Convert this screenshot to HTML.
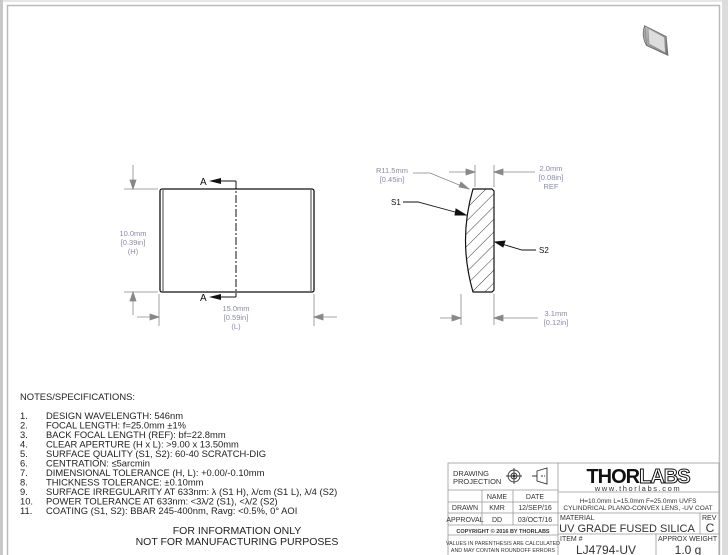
<!DOCTYPE html>
<html><head><meta charset="utf-8"><style>
body{margin:0;width:728px;height:555px;overflow:hidden;background:#fff}
svg{display:block}
text{font-family:"Liberation Sans",sans-serif}
</style></head><body>
<svg width="728" height="555" viewBox="0 0 728 555" xmlns="http://www.w3.org/2000/svg">
<defs>
<pattern id="h" width="9" height="9" patternUnits="userSpaceOnUse" patternTransform="rotate(45)"><line x1="0" y1="0" x2="0" y2="9" stroke="#222" stroke-width="0.9"/></pattern>
<linearGradient id="g" x1="0" y1="0" x2="1" y2="1"><stop offset="0" stop-color="#bbb"/><stop offset="1" stop-color="#777"/></linearGradient>
</defs>
<rect x="0" y="0" width="728" height="555" fill="#e6e6e6"/>
<rect x="3" y="2" width="719" height="553" fill="#fff"/>
<rect x="0" y="0" width="3" height="555" fill="#c8c8c8"/>
<rect x="722" y="0" width="6" height="555" fill="#dcdcdc"/>
<path d="M7.5 555 V5.5 H719.5 V555" fill="none" stroke="#bbb" stroke-width="1.5"/>
<!-- 3D icon -->
<g transform="translate(641,23) scale(0.9)">
<path d="M4 3 L28 15 L30 36 L6 25 Z" fill="url(#g)" stroke="#666" stroke-width="0.8"/>
<path d="M8 6 L26 16 L27 33 L9 23 Z" fill="#ddd" stroke="#999" stroke-width="0.6"/>
<path d="M4 3 Q0 14 6 25" fill="#aaa" stroke="#666" stroke-width="0.8"/>
</g>
<!-- front view -->
<g stroke="#111" fill="none" stroke-width="1.3">
<rect x="160" y="189" width="154" height="103" rx="2"/>
<line x1="163" y1="190" x2="163" y2="291" stroke-width="0.8"/>
<line x1="311" y1="190" x2="311" y2="291" stroke-width="0.8"/>
<line x1="236" y1="181" x2="236" y2="297" stroke-dasharray="8,2,2,2" stroke-width="1"/>
<path d="M221 181 H236 M221 297 H236" stroke-width="1"/>
</g>
<g fill="#111"><path d="M209 181 L221 178 L221 184Z M209 297 L221 294 L221 300Z"/></g>
<text x="200" y="185" font-size="10" fill="#111">A</text>
<text x="200" y="301" font-size="10" fill="#111">A</text>
<g stroke="#888" stroke-width="0.8" fill="#888">
<line x1="124" y1="189" x2="158" y2="189"/><line x1="124" y1="292" x2="158" y2="292"/>
<line x1="133" y1="165" x2="133" y2="189"/><path d="M130 180 L133 189 L136 180Z"/>
<line x1="133" y1="292" x2="133" y2="315"/><path d="M130 301 L133 292 L136 301Z"/>
<line x1="159" y1="294" x2="159" y2="326"/><line x1="314" y1="294" x2="314" y2="326"/>
<line x1="137" y1="317" x2="159" y2="317"/><path d="M150 314 L159 317 L150 320Z"/>
<line x1="314" y1="317" x2="337" y2="317"/><path d="M323 314 L314 317 L323 320Z"/>
</g>
<g font-size="7.5" fill="#8a8aa8" text-anchor="middle">
<text x="133" y="236">10.0mm</text><text x="133" y="245">[0.39in]</text><text x="133" y="254">(H)</text>
<text x="236" y="311">15.0mm</text><text x="236" y="320">[0.59in]</text><text x="236" y="329">(L)</text>
<text x="392" y="173">R11.5mm</text><text x="392" y="182">[0.45in]</text>
<text x="551" y="171">2.0mm</text><text x="551" y="180">[0.08in]</text><text x="551" y="189">REF</text>
<text x="556" y="316">3.1mm</text><text x="556" y="325">[0.12in]</text>
</g>
<!-- lens section -->
<path d="M473 189 L492 189 L494 191 L494 290 L492 292 L473 292 Q458 240 473 189Z" fill="url(#h)" stroke="#111" stroke-width="1.2"/>
<g stroke="#888" stroke-width="0.8" fill="#888">
<line x1="475" y1="165" x2="475" y2="187"/><line x1="494" y1="165" x2="494" y2="187"/>
<line x1="449" y1="172" x2="475" y2="172"/><path d="M466 169 L475 172 L466 175Z"/>
<line x1="494" y1="172" x2="535" y2="172"/><path d="M503 169 L494 172 L503 175Z"/>
<path d="M413 173 L430 173 L469 189" fill="none"/><path d="M469 189 L461 182 L459 187Z"/>
<line x1="461" y1="294" x2="461" y2="325"/><line x1="494" y1="294" x2="494" y2="325"/>
<line x1="440" y1="318" x2="461" y2="318"/><path d="M452 315 L461 318 L452 321Z"/>
<line x1="494" y1="318" x2="538" y2="318"/><path d="M503 315 L494 318 L503 321Z"/>
</g>
<g stroke="#111" stroke-width="0.9" fill="#111">
<path d="M403 202 L418 202 L466 215" fill="none"/><path d="M466 215 L456 209 L455 215Z"/>
<path d="M536 250 L522 250 L495 242" fill="none"/><path d="M495 242 L505 241 L503 247Z"/>
</g>
<text x="391" y="205" font-size="8" fill="#111">S1</text>
<text x="539" y="253" font-size="8" fill="#111">S2</text>
<!-- notes -->
<g font-size="9.4" fill="#222">
<text x="20" y="400">NOTES/SPECIFICATIONS:</text>
<g>
<text x="20" y="419">1.</text><text x="46" y="419">DESIGN WAVELENGTH: 546nm</text>
<text x="20" y="428.5">2.</text><text x="46" y="428.5">FOCAL LENGTH: f=25.0mm ±1%</text>
<text x="20" y="438">3.</text><text x="46" y="438">BACK FOCAL LENGTH (REF): bf=22.8mm</text>
<text x="20" y="447.5">4.</text><text x="46" y="447.5">CLEAR APERTURE (H x L): &gt;9.00 x 13.50mm</text>
<text x="20" y="457">5.</text><text x="46" y="457">SURFACE QUALITY (S1, S2): 60-40 SCRATCH-DIG</text>
<text x="20" y="466.5">6.</text><text x="46" y="466.5">CENTRATION: ≤5arcmin</text>
<text x="20" y="476">7.</text><text x="46" y="476">DIMENSIONAL TOLERANCE (H, L): +0.00/-0.10mm</text>
<text x="20" y="485.5">8.</text><text x="46" y="485.5">THICKNESS TOLERANCE: ±0.10mm</text>
<text x="20" y="495">9.</text><text x="46" y="495">SURFACE IRREGULARITY AT 633nm: λ (S1 H), λ/cm (S1 L), λ/4 (S2)</text>
<text x="20" y="504.5">10.</text><text x="46" y="504.5">POWER TOLERANCE AT 633nm: &lt;3λ/2 (S1), &lt;λ/2 (S2)</text>
<text x="20" y="514">11.</text><text x="46" y="514">COATING (S1, S2): BBAR 245-400nm, Ravg: &lt;0.5%, 0° AOI</text>
</g>
<g font-size="10.5" text-anchor="middle"><text x="237" y="534">FOR INFORMATION ONLY</text><text x="237" y="545">NOT FOR MANUFACTURING PURPOSES</text></g>
</g>
<!-- title block -->
<g stroke="#999" stroke-width="0.8" fill="none">
<rect x="448" y="463" width="271" height="95"/>
<line x1="558" y1="463" x2="558" y2="555"/>
<line x1="448" y1="490" x2="558" y2="490"/>
<line x1="448" y1="502" x2="558" y2="502"/>
<line x1="448" y1="513" x2="558" y2="513"/>
<line x1="448" y1="525" x2="558" y2="525"/>
<line x1="448" y1="535" x2="558" y2="535"/>
<line x1="482" y1="490" x2="482" y2="525"/>
<line x1="513" y1="490" x2="513" y2="525"/>
<line x1="558" y1="492" x2="719" y2="492"/>
<line x1="558" y1="513" x2="719" y2="513"/>
<line x1="558" y1="534" x2="719" y2="534"/>
<line x1="700" y1="513" x2="700" y2="534"/>
<line x1="656" y1="534" x2="656" y2="555"/>
</g>
<g fill="#333">
<text x="453" y="476" font-size="7.5">DRAWING</text><text x="453" y="484" font-size="7.5">PROJECTION</text>
<g font-size="7" text-anchor="middle">
<text x="497" y="499">NAME</text><text x="535" y="499">DATE</text>
<text x="465" y="510">DRAWN</text><text x="497" y="510">KMR</text><text x="535" y="510">12/SEP/16</text>
<text x="465" y="522">APPROVAL</text><text x="497" y="522">DD</text><text x="535" y="522">03/OCT/16</text>
<text x="503" y="533" font-size="5.5" font-weight="bold">COPYRIGHT © 2016 BY THORLABS</text>
<text x="503" y="545" font-size="5.3">VALUES IN PARENTHESIS ARE CALCULATED</text>
<text x="503" y="552" font-size="5.3">AND MAY CONTAIN ROUNDOFF ERRORS</text>
<text x="638" y="503" font-size="6.5">H=10.0mm L=15.0mm F=25.0mm UVFS</text>
<text x="638" y="510" font-size="6.5">CYLINDRICAL PLANO-CONVEX LENS, -UV COAT</text>
</g>
<text x="560" y="520" font-size="7">MATERIAL</text>
<text x="702" y="520" font-size="7">REV</text>
<text x="627" y="532" font-size="11" text-anchor="middle">UV GRADE FUSED SILICA</text>
<text x="710" y="532" font-size="12" text-anchor="middle">C</text>
<text x="560" y="541" font-size="7">ITEM #</text>
<text x="658" y="541" font-size="7">APPROX WEIGHT</text>
<text x="606" y="554" font-size="12" text-anchor="middle">LJ4794-UV</text>
<text x="688" y="554" font-size="12" text-anchor="middle">1.0 g</text>
<text x="638" y="483" font-size="20" font-weight="bold" text-anchor="middle" fill="#111" letter-spacing="-1">THOR<tspan fill="#fff" stroke="#111" stroke-width="1">LABS</tspan></text>
<text x="638" y="491" font-size="7.5" text-anchor="middle" letter-spacing="1.6">www.thorlabs.com</text>
</g>
<g stroke="#333" fill="none" stroke-width="0.9">
<circle cx="514" cy="476" r="6"/><circle cx="514" cy="476" r="3"/><circle cx="514" cy="476" r="1" fill="#333"/>
<path d="M506 476 H522 M514 468 V484"/>
<path d="M537 471 L547 468 V484 L537 481Z M532 476 H537"/>
<path d="M541 476 H545" stroke-dasharray="2,1"/>
</g>
</svg>
</body></html>
